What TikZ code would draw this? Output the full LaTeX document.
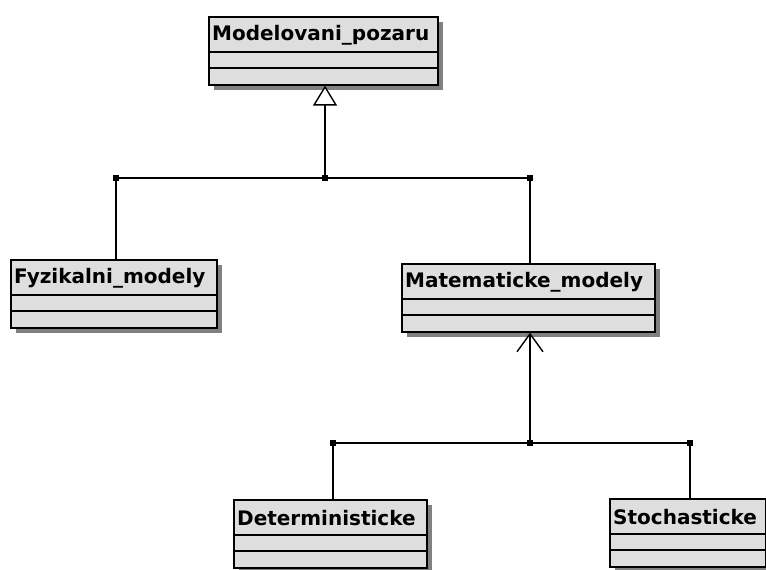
\documentclass[tikz,border=0pt]{standalone}
\usepackage{fontspec}
\setmainfont{Liberation Sans}
\newfontfamily\umlfont{DejaVu Sans}
\usetikzlibrary{arrows.meta}
\definecolor{boxgray}{RGB}{222,222,222}
\definecolor{shadowgray}{RGB}{128,128,128}
\newcommand\umlclass[5]{% #1 name, #2 x, #3 y, #4 width, #5 text
  \fill[shadowgray] (#2+6,#3+6) rectangle ++(#4,68);
  \node[cls, minimum width=#4pt] (#1) at (#2,#3) {};
  \draw[sep] ([yshift=-36pt]#1.north west) -- ([yshift=-36pt]#1.north east);
  \draw[sep] ([yshift=-52pt]#1.north west) -- ([yshift=-52pt]#1.north east);
  \node[clstext] (#1-t) at ([xshift=4pt,yshift=-19pt]#1.north west) {#5};
}
\begin{document}
\begin{tikzpicture}[x=1pt,y=-1pt,
  cls/.style={draw=black, line width=1.6pt, fill=boxgray, minimum height=68pt, inner sep=0pt, anchor=north west, rectangle},
  sep/.style={line width=1.4pt},
  clstext/.style={anchor=west, inner sep=0pt, font=\umlfont\bfseries\fontsize{20}{20}\selectfont},
  conn/.style={line width=1.6pt},
  jdot/.style={fill=black, minimum size=6pt, inner sep=0pt, rectangle},
  gen/.style={conn, -{Triangle[open, fill=white, width=24pt, length=20pt, line width=1.4pt]}},
  dep/.style={conn, -{Straight Barb[width=26pt, length=18pt, line width=1.4pt]}}
]
\useasboundingbox (0,0) rectangle (766,570);
\fill[white] (0,0) rectangle (766,570);

\umlclass{m}{208}{16}{229}{Modelovani\_pozaru}
\umlclass{f}{10}{259}{206}{Fyzikalni\_modely}
\umlclass{mat}{401}{263}{253}{Matematicke\_modely}
\umlclass{d}{233}{499}{193}{Deterministicke}
\umlclass{s}{609}{498}{156}{Stochasticke}

% upper generalization tree
\node[jdot] (j1l) at (116,178) {};
\node[jdot] (j1c) at (325,178) {};
\node[jdot] (j1r) at (530,178) {};
\draw[conn] (j1l.center) -- (j1r.center);
\draw[gen] (j1c.center) -- (j1c.center |- m.south);
\draw[conn] (j1l.center) -- (j1l.center |- f.north);
\draw[conn] (j1r.center) -- (j1r.center |- mat.north);

% lower tree
\node[jdot] (j2l) at (333,443) {};
\node[jdot] (j2c) at (530,443) {};
\node[jdot] (j2r) at (690,443) {};
\draw[conn] (j2l.center) -- (j2r.center);
\draw[dep] (j2c.center) -- (j2c.center |- mat.south);
\draw[conn] (j2l.center) -- (j2l.center |- d.north);
\draw[conn] (j2r.center) -- (j2r.center |- s.north);
\end{tikzpicture}
\end{document}
